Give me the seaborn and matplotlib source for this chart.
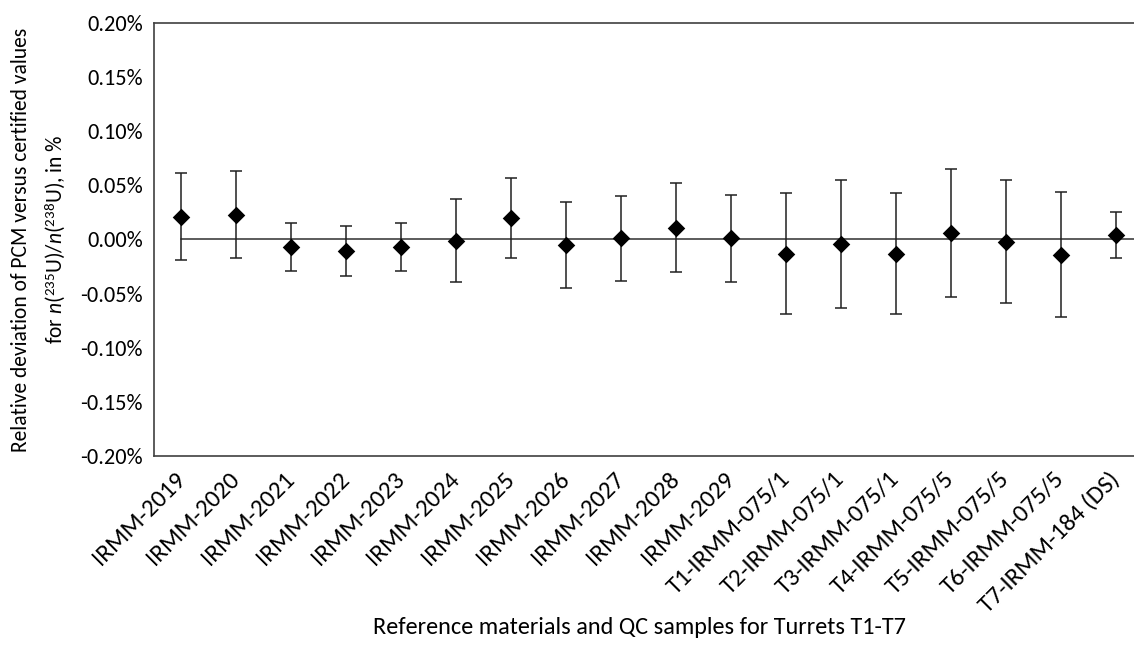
import numpy as np
import pandas as pd
import seaborn as sns
import matplotlib.pyplot as plt
from matplotlib.ticker import FuncFormatter
from matplotlib import font_manager

# samples on the x axis
samples = ["IRMM-2019", "IRMM-2020", "IRMM-2021", "IRMM-2022", "IRMM-2023",
           "IRMM-2024", "IRMM-2025", "IRMM-2026", "IRMM-2027", "IRMM-2028",
           "IRMM-2029", "T1-IRMM-075/1", "T2-IRMM-075/1", "T3-IRMM-075/1",
           "T4-IRMM-075/5", "T5-IRMM-075/5", "T6-IRMM-075/5", "T7-IRMM-184 (DS)"]
# relative deviation, in %
deviation = [0.021, 0.023, -0.007, -0.011, -0.007, -0.001, 0.020, -0.005, 0.001,
             0.011, 0.001, -0.013, -0.004, -0.013, 0.006, -0.002, -0.014, 0.004]
# expanded uncertainty (+/-), in %
uncertainty = [0.040, 0.040, 0.022, 0.023, 0.022, 0.038, 0.037, 0.040, 0.039,
               0.041, 0.040, 0.056, 0.059, 0.056, 0.059, 0.057, 0.058, 0.021]

df = pd.DataFrame({"sample": samples, "dev": deviation, "unc": uncertainty})

sns.set_theme(style="white")
# Carlito looks like Calibri (the original), Lato if it's not there
names = set(f.name for f in font_manager.fontManager.ttflist)
if 'Carlito' in names:
    fam = 'Carlito'
    fs_xt, fs_yt, fs_xl, fs_yl = 18, 16, 17.5, 15.5
else:
    fam = 'Lato'
    fs_xt, fs_yt, fs_xl, fs_yl = 15.5, 14, 16, 14
plt.rcParams['font.family'] = [fam, 'DejaVu Sans']
plt.rcParams['mathtext.fontset'] = 'custom'
plt.rcParams['mathtext.rm'] = fam
plt.rcParams['mathtext.it'] = fam + ':italic'

fig = plt.figure(figsize=(11.34, 6.47), dpi=100)
ax = fig.add_axes([0.1358, 0.2952, 0.8726, 0.6693])

x = np.arange(len(df))
# zero line from first sample to the right edge
ax.plot([0, len(df) - 0.5], [0, 0], color='#404040', lw=1.2, zorder=1)
ax.errorbar(x, df.dev, yerr=df.unc, fmt='none', ecolor='#202020',
            elinewidth=1.1, capsize=4, capthick=1.1, zorder=2)
sns.scatterplot(data=df, x="sample", y="dev", marker='D', s=80, color='black',
                edgecolor='black', linewidth=0, ax=ax, zorder=3)

ax.set_xlim(-0.5, len(df) - 0.5)
ax.set_ylim(-0.20, 0.20)
ax.set_yticks(np.arange(-0.20, 0.2001, 0.05))
ax.yaxis.set_major_formatter(
    FuncFormatter(lambda v, p: "%.2f%%" % (0.0 if abs(v) < 1e-9 else v)))

ax.set_xticks(x)
ax.set_xticklabels(samples, rotation=45, ha='right', va='center',
                   rotation_mode='anchor', fontsize=fs_xt, color='black')
ax.tick_params(axis='x', length=0, pad=14)
ax.tick_params(axis='y', direction='in', length=5, width=1, color='#404040',
               labelsize=fs_yt, labelcolor='black', pad=8)

for s in ['left', 'top', 'bottom', 'right']:
    ax.spines[s].set_color('#404040')
    ax.spines[s].set_linewidth(1.2)

ax.set_xlabel("Reference materials and QC samples for Turrets T1-T7",
              fontsize=fs_xl, color='black')
ax.xaxis.set_label_coords(0.491, -0.372)
ax.set_ylabel("Relative deviation of PCM versus certified values\n"
              r"for $n$(${}^{235}$U)/$n$(${}^{238}$U), in %",
              fontsize=fs_yl, color='black', labelpad=9, linespacing=1.6)

fig.savefig("out.png", dpi=100)
